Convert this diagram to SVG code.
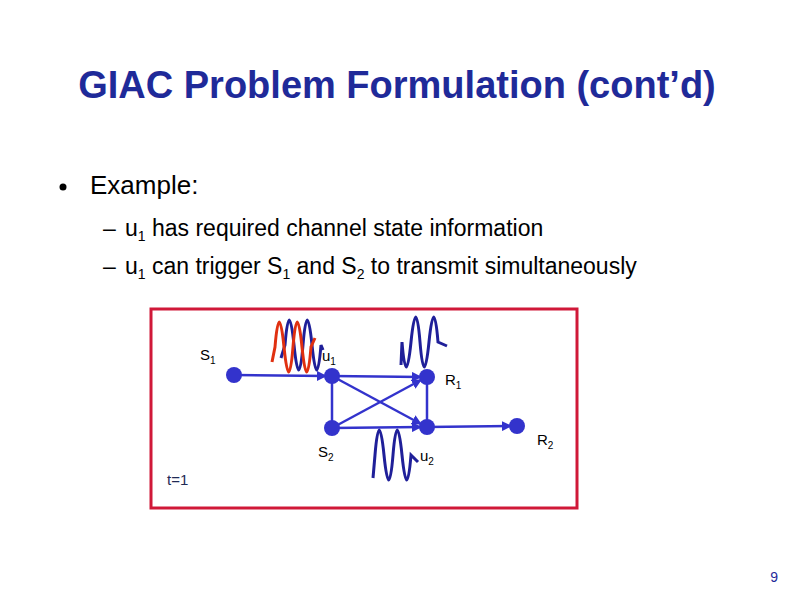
<svg xmlns="http://www.w3.org/2000/svg" width="794" height="595" viewBox="0 0 794 595">
<style>
text{font-family:"Liberation Sans",Arial,sans-serif}
.t{fill:#000;font-size:23px}
.n{fill:#3333cc}
.e{stroke:#3333cc;stroke-width:2.5;fill:none}
.w{stroke:#1f1f99;stroke-width:3;fill:none}
.l{font-size:15px;fill:#000}
</style>
<defs><marker id="a" viewBox="0 0 10 10" refX="9" refY="5" markerWidth="4" markerHeight="4" orient="auto"><path d="M0,0L10,5L0,10z" fill="#3333cc"/></marker></defs>
<rect width="794" height="595" fill="#fff"/>
<text x="397" y="98" text-anchor="middle" font-size="38" font-weight="bold" fill="#1f2a99">GIAC Problem Formulation (cont’d)</text>
<circle cx="63" cy="187" r="3.5" fill="#000"/>
<text x="90" y="194" font-size="26" fill="#000">Example:</text>
<text x="103" y="236" class="t">–</text>
<text x="125" y="236" class="t">u<tspan font-size="14" dy="5">1</tspan><tspan dy="-5"> has required channel state information</tspan></text>
<text x="103" y="274" class="t">–</text>
<text x="125" y="274" class="t">u<tspan font-size="14" dy="5">1</tspan><tspan dy="-5"> can trigger S</tspan><tspan font-size="14" dy="5">1</tspan><tspan dy="-5"> and S</tspan><tspan font-size="14" dy="5">2</tspan><tspan dy="-5"> to transmit simultaneously</tspan></text>
<rect x="151" y="309" width="426" height="199" fill="none" stroke="#d01838" stroke-width="3"/>
<g id="connectors">
<line class="e" x1="234" y1="375" x2="326" y2="376" marker-end="url(#a)"/>
<line class="e" x1="332" y1="376" x2="421" y2="377" marker-end="url(#a)"/>
<line class="e" x1="332" y1="376" x2="421" y2="424" marker-end="url(#a)"/>
<line class="e" x1="332" y1="428" x2="421" y2="380" marker-end="url(#a)"/>
<line class="e" x1="332" y1="428" x2="421" y2="427" marker-end="url(#a)"/>
<line class="e" x1="332" y1="376" x2="332" y2="428"/>
<line class="e" x1="427" y1="377" x2="427" y2="427"/>
<line class="e" x1="427" y1="427" x2="511" y2="426" marker-end="url(#a)"/>
</g>
<g id="waves">
<path class="w" d="M281,358 L285,345 Q289,295 294,345 T303,345 T312,345 T321,345 L323,350"/>
<path stroke="#e03010" stroke-width="3" fill="none" d="M272,362 L275,347 Q279,297 284,347 T293,347 T302,347 T311,347 L315,338"/>
<path class="w" d="M401,365 L402,342 Q406,392 411,342 T420,342 T429,342 T438,342 L447,346"/>
<path class="w" d="M373,478 L375,455 Q379,405 384,455 T393,455 T402,455 T411,455 L418,462"/>
</g>
<g id="S1"><circle class="n" cx="234" cy="375" r="8"/><text class="l" x="200" y="360">S<tspan font-size="10" dy="4">1</tspan></text></g>
<g id="u1"><circle class="n" cx="332" cy="376" r="8"/><text class="l" x="322" y="361">u<tspan font-size="10" dy="4">1</tspan></text></g>
<g id="R1"><circle class="n" cx="427" cy="377" r="8"/><text class="l" x="445" y="385">R<tspan font-size="10" dy="4">1</tspan></text></g>
<g id="S2"><circle class="n" cx="332" cy="428" r="8"/><text class="l" x="318" y="457">S<tspan font-size="10" dy="4">2</tspan></text></g>
<g id="u2"><circle class="n" cx="427" cy="427" r="8"/><text class="l" x="420" y="461">u<tspan font-size="10" dy="4">2</tspan></text></g>
<g id="R2"><circle class="n" cx="517" cy="426" r="8"/><text class="l" x="537" y="445">R<tspan font-size="10" dy="4">2</tspan></text></g>
<text x="167" y="485" font-size="15" fill="#1f2a55">t=1</text>
<text x="778" y="582" font-size="14" text-anchor="end" fill="#1f2a99">9</text>
</svg>
